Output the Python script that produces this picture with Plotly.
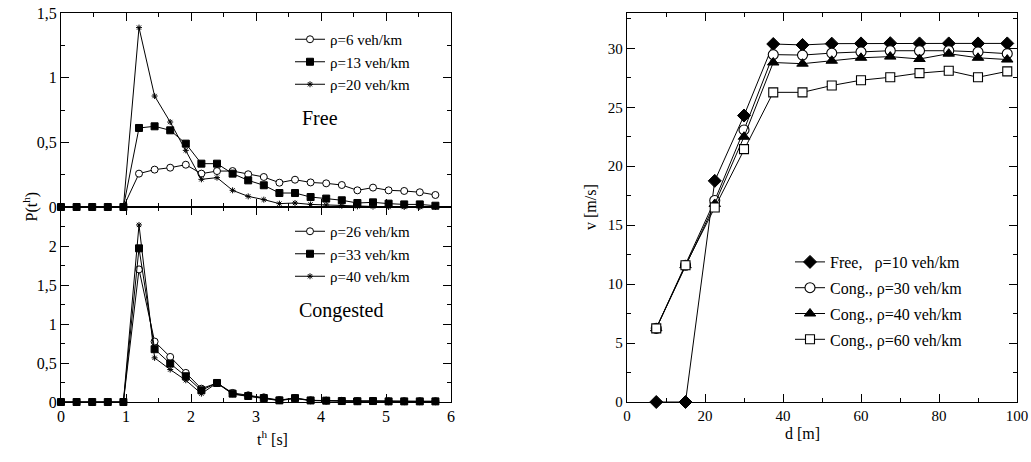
import plotly.graph_objects as go

# ---------------- data ----------------
t_h = [0, 0.24, 0.48, 0.72, 0.96, 1.2, 1.44, 1.68, 1.92, 2.16, 2.4, 2.64, 2.88,
       3.12, 3.36, 3.6, 3.84, 4.08, 4.32, 4.56, 4.8, 5.04, 5.28, 5.52, 5.76]

p_rho6 = [0, 0, 0, 0, 0, 0.258, 0.289, 0.304, 0.327, 0.258, 0.278, 0.278, 0.253,
          0.232, 0.188, 0.211, 0.19, 0.183, 0.17, 0.129, 0.15, 0.129, 0.124, 0.114, 0.093]
p_rho13 = [0, 0, 0, 0, 0, 0.611, 0.624, 0.593, 0.49, 0.335, 0.335, 0.258, 0.206,
           0.168, 0.108, 0.108, 0.077, 0.065, 0.052, 0.031, 0.036, 0.026, 0.02, 0.02, 0.01]
p_rho20 = [0, 0, 0, 0, 0, 1.387, 0.858, 0.657, 0.438, 0.214, 0.227, 0.129, 0.082,
           0.057, 0.026, 0.031, 0.02, 0.015, 0.01, 0.005, 0.003, 0, 0, 0, 0]

p_rho26 = [0, 0, 0, 0, 0, 1.70, 0.775, 0.578, 0.373, 0.171, 0.244, 0.116, 0.086,
           0.06, 0.025, 0.05, 0.022, 0.018, 0.015, 0.012, 0.015, 0.01, 0.01, 0.01, 0.01]
p_rho33 = [0, 0, 0, 0, 0, 1.97, 0.677, 0.493, 0.33, 0.15, 0.244, 0.107, 0.077,
           0.051, 0.021, 0.05, 0.02, 0.017, 0.012, 0.01, 0.012, 0.008, 0.008, 0.008, 0.008]
p_rho40 = [0, 0, 0, 0, 0, 2.27, 0.566, 0.416, 0.279, 0.107, 0.244, 0.1, 0.072,
           0.048, 0.018, 0.045, 0.018, 0.015, 0.01, 0.008, 0.01, 0.006, 0.006, 0.006, 0.006]

d_m = [7.5, 15, 22.5, 30, 37.5, 45, 52.5, 60, 67.5, 75, 82.5, 90, 97.5]
v_free10 = [0, 0, 18.76, 24.3, 30.37, 30.29, 30.4, 30.42, 30.44, 30.42, 30.42, 30.42, 30.42]
v_cong30 = [6.25, 11.6, 17.1, 23.08, 29.47, 29.43, 29.6, 29.7, 29.8, 29.8, 29.8, 29.7, 29.55]
v_cong40 = [6.25, 11.6, 16.8, 22.5, 28.8, 28.7, 28.95, 29.2, 29.3, 29.1, 29.55, 29.2, 29.05]
v_cong60 = [6.25, 11.6, 16.5, 21.45, 26.27, 26.27, 26.85, 27.3, 27.55, 27.9, 28.1, 27.55, 28.05]

top_names = ["ρ=6 veh/km", "ρ=13 veh/km", "ρ=20 veh/km"]
bot_names = ["ρ=26 veh/km", "ρ=33 veh/km", "ρ=40 veh/km"]
right_names = ["Free,\u00a0\u00a0\u00a0ρ=10 veh/km", "Cong., ρ=30 veh/km",
               "Cong., ρ=40 veh/km", "Cong., ρ=60 veh/km"]

# ---------------- figure ----------------
W, H = 1031, 462
FONT = "Liberation Serif, Times New Roman, DejaVu Serif, serif"

def px_x(p):
    return p / W

def px_y(p):
    return 1 - p / H

fig = go.Figure()

def mk(symbol, size, fill, lw=1.0):
    return dict(symbol=symbol, size=size, color=fill,
                line=dict(color="black", width=lw))

line = dict(color="black", width=1)

# top-left
fig.add_trace(go.Scatter(x=t_h, y=p_rho6, mode="lines+markers", name=top_names[0],
                         line=line, marker=mk("circle", 7, "white"),
                         xaxis="x", yaxis="y", legend="legend", cliponaxis=False))
fig.add_trace(go.Scatter(x=t_h, y=p_rho13, mode="lines+markers", name=top_names[1],
                         line=line, marker=mk("square", 7, "black"),
                         xaxis="x", yaxis="y", legend="legend", cliponaxis=False))
fig.add_trace(go.Scatter(x=t_h, y=p_rho20, mode="lines+markers", name=top_names[2],
                         line=line, marker=mk("asterisk-open", 5, "black", 1.0),
                         xaxis="x", yaxis="y", legend="legend", cliponaxis=False))

# bottom-left
fig.add_trace(go.Scatter(x=t_h, y=p_rho26, mode="lines+markers", name=bot_names[0],
                         line=line, marker=mk("circle", 7, "white"),
                         xaxis="x2", yaxis="y2", legend="legend2", cliponaxis=False))
fig.add_trace(go.Scatter(x=t_h, y=p_rho33, mode="lines+markers", name=bot_names[1],
                         line=line, marker=mk("square", 7, "black"),
                         xaxis="x2", yaxis="y2", legend="legend2", cliponaxis=False))
fig.add_trace(go.Scatter(x=t_h, y=p_rho40, mode="lines+markers", name=bot_names[2],
                         line=line, marker=mk("asterisk-open", 5, "black", 1.0),
                         xaxis="x2", yaxis="y2", legend="legend2", cliponaxis=False))

# right
fig.add_trace(go.Scatter(x=d_m, y=v_free10, mode="lines+markers", name=right_names[0],
                         line=line, marker=mk("diamond", 10, "black"),
                         xaxis="x3", yaxis="y3", legend="legend3", legendgroup="a",
                         cliponaxis=False))
fig.add_trace(go.Scatter(x=d_m, y=v_cong30, mode="lines+markers", name=right_names[1],
                         line=line, marker=mk("circle", 10, "white", 1.1),
                         xaxis="x3", yaxis="y3", legend="legend3", legendgroup="b",
                         cliponaxis=False))
fig.add_trace(go.Scatter(x=d_m, y=v_cong40, mode="lines+markers", name=right_names[2],
                         line=line, marker=mk("triangle-up", 10, "black"),
                         xaxis="x3", yaxis="y3", legend="legend3", legendgroup="c",
                         cliponaxis=False))
fig.add_trace(go.Scatter(x=d_m, y=v_cong60, mode="lines+markers", name=right_names[3],
                         line=line, marker=mk("square", 9, "white", 1.1),
                         xaxis="x3", yaxis="y3", legend="legend3", legendgroup="d",
                         cliponaxis=False))

def axis_style(fsize):
    return dict(showline=True, linecolor="black", linewidth=1.3, mirror="ticks",
                ticks="inside", ticklen=8, tickwidth=1, tickcolor="black",
                showgrid=False, zeroline=False, automargin=False,
                tickfont=dict(family=FONT, size=fsize, color="black"))

left_dom = [px_x(61), px_x(451)]
right_dom = [px_x(627), px_x(1017)]

fig.update_layout(
    template="none",
    width=W, height=H,
    margin=dict(l=0, r=0, t=0, b=0, autoexpand=False),
    paper_bgcolor="white", plot_bgcolor="white",
    font=dict(family=FONT, color="black", size=15),
    xaxis=dict(domain=left_dom, anchor="y", range=[0, 6], tickvals=[0, 1, 2, 3, 4, 5, 6],
               showticklabels=False,
               minor=dict(ticks="inside", ticklen=4, dtick=0.5, tickcolor="black"),
               **axis_style(16)),
    yaxis=dict(domain=[px_y(207), px_y(13)], anchor="x", range=[0, 1.5],
               tickvals=[0, 0.5, 1, 1.5], ticktext=["0", "0,5", "1", "1,5"],
               minor=dict(ticks="inside", ticklen=4, dtick=0.25, tickcolor="black"),
               **axis_style(16)),
    xaxis2=dict(domain=left_dom, anchor="y2", range=[0, 6], tickvals=[0, 1, 2, 3, 4, 5, 6],
                minor=dict(ticks="inside", ticklen=4, dtick=0.5, tickcolor="black"),
                **axis_style(16)),
    yaxis2=dict(domain=[px_y(402), px_y(207)], anchor="x2", range=[0, 2.5],
                tickvals=[0, 0.5, 1, 1.5, 2], ticktext=["0", "0,5", "1", "1,5", "2"],
                minor=dict(ticks="inside", ticklen=4, dtick=0.25, tickcolor="black"),
                **axis_style(16)),
    xaxis3=dict(domain=right_dom, anchor="y3", range=[0, 100],
                tickvals=[0, 20, 40, 60, 80, 100],
                minor=dict(ticks="inside", ticklen=4, dtick=10, tickcolor="black"),
                **axis_style(15)),
    yaxis3=dict(domain=[px_y(402), px_y(13)], anchor="x3", range=[0, 33],
                tickvals=[0, 5, 10, 15, 20, 25, 30],
                minor=dict(ticks="inside", ticklen=4, dtick=2.5, tickcolor="black"),
                **axis_style(15)),
    legend=dict(x=px_x(290), y=px_y(23), xanchor="left", yanchor="top",
                bgcolor="rgba(0,0,0,0)", font=dict(family=FONT, size=15),
                itemwidth=30),
    legend2=dict(x=px_x(290), y=px_y(215), xanchor="left", yanchor="top",
                 bgcolor="rgba(0,0,0,0)", font=dict(family=FONT, size=15),
                 itemwidth=30),
    legend3=dict(x=px_x(790), y=px_y(245), xanchor="left", yanchor="top",
                 bgcolor="rgba(0,0,0,0)", font=dict(family=FONT, size=16),
                 itemwidth=30, tracegroupgap=2),
    showlegend=True,
)

ann_font = dict(family=FONT, size=16, color="black")
fig.add_annotation(text="Free", x=px_x(300), y=px_y(118), xref="paper", yref="paper",
                   xanchor="left", yanchor="middle", showarrow=False,
                   font=dict(family=FONT, size=20, color="black"))
fig.add_annotation(text="Congested", x=px_x(297), y=px_y(310), xref="paper", yref="paper",
                   xanchor="left", yanchor="middle", showarrow=False,
                   font=dict(family=FONT, size=20, color="black"))
fig.add_annotation(text="P(t<sup>h</sup>)", x=px_x(18), y=px_y(207), xref="paper",
                   yref="paper", textangle=-90, showarrow=False, font=ann_font)
fig.add_annotation(text="t<sup>h</sup> [s]", x=px_x(255), y=px_y(450), xref="paper",
                   yref="paper", showarrow=False, font=ann_font)
fig.add_annotation(text="v [m/s]", x=px_x(590), y=px_y(207), xref="paper",
                   yref="paper", textangle=-90, showarrow=False, font=ann_font)
fig.add_annotation(text="d [m]", x=px_x(822), y=px_y(444), xref="paper",
                   yref="paper", showarrow=False, font=ann_font)

fig.write_html("out.html",
               config={"displayModeBar": False},
               post_script="document.body.style.margin='0px';"
                           "document.body.style.overflow='hidden';")
